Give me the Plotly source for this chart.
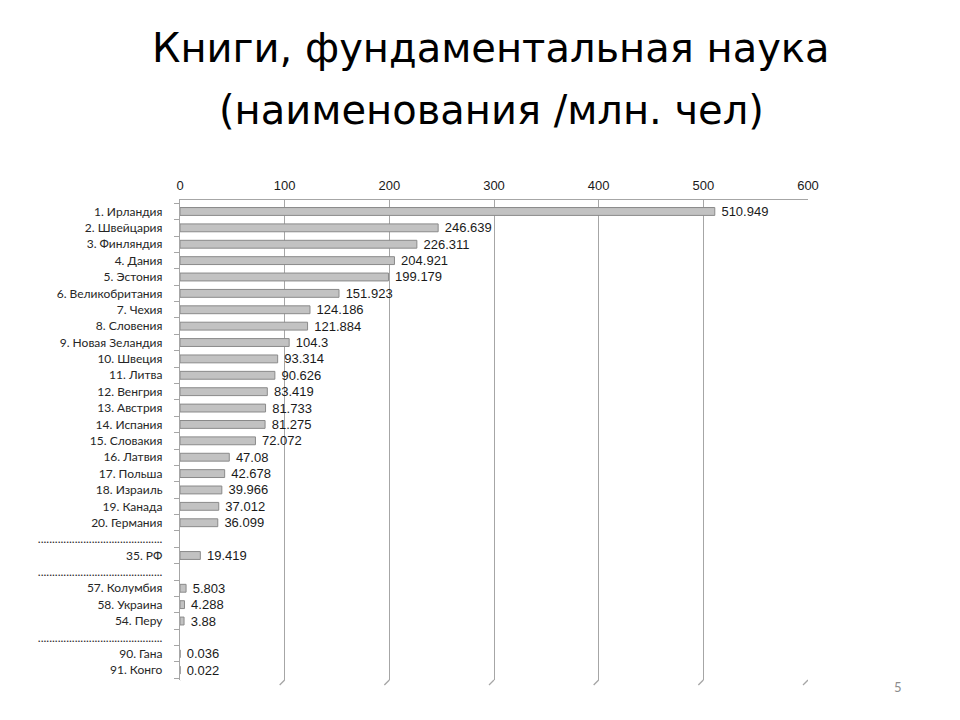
import plotly.graph_objects as go

# rows of the chart, top to bottom; "" marks a gap row with a dotted separator
labels = [
    "1. Ирландия", "2. Швейцария", "3. Финляндия", "4. Дания", "5. Эстония",
    "6. Великобритания", "7. Чехия", "8. Словения", "9. Новая Зеландия",
    "10. Швеция", "11. Литва", "12. Венгрия", "13. Австрия", "14. Испания",
    "15. Словакия", "16. Латвия", "17. Польша", "18. Израиль", "19. Канада",
    "20. Германия", "", "35. РФ", "", "57. Колумбия", "58. Украина", "54. Перу",
    "", "90. Гана", "91. Конго",
]
values = [
    510.949, 246.639, 226.311, 204.921, 199.179, 151.923, 124.186, 121.884,
    104.3, 93.314, 90.626, 83.419, 81.733, 81.275, 72.072, 47.08, 42.678,
    39.966, 37.012, 36.099, None, 19.419, None, 5.803, 4.288, 3.88, None,
    0.036, 0.022,
]
value_text = [
    "510.949", "246.639", "226.311", "204.921", "199.179", "151.923", "124.186",
    "121.884", "104.3", "93.314", "90.626", "83.419", "81.733", "81.275",
    "72.072", "47.08", "42.678", "39.966", "37.012", "36.099", "", "19.419", "",
    "5.803", "4.288", "3.88", "", "0.036", "0.022",
]
x_ticks = [0, 100, 200, 300, 400, 500, 600]

rows = list(range(len(labels)))
dots = "." * 44
tick_text = [lab if lab else dots for lab in labels]

# the page is shown with an 8px body margin, so layout is in figure pixels
W, H = 960, 720
L, R, T, B = 172, 160, 192, 48
plot_w = W - L - R
plot_h = H - T - B

fig = go.Figure()
fig.add_trace(go.Bar(
    x=values, y=rows, orientation="h",
    width=0.48,
    marker=dict(color="#c2c2c2", line=dict(color="#8a8a8a", width=1)),
    text=value_text, texttemplate="\u00a0%{text}",
    textposition="outside", constraintext="none",
    textfont=dict(family="Liberation Sans, Arial", size=13, color="#1a1a1a"),
    cliponaxis=False, hoverinfo="skip",
))

fig.update_layout(
    width=W, height=H,
    paper_bgcolor="white", plot_bgcolor="white",
    margin=dict(l=L, r=R, t=T, b=B, autoexpand=False),
    showlegend=False,
    xaxis=dict(
        side="top", range=[0, 600], tickvals=x_ticks,
        showgrid=True, gridcolor="#a6a6a6", gridwidth=1.3,
        showline=True, linecolor="#a6a6a6", linewidth=1.3,
        zeroline=False, ticks="", ticklabelstandoff=4,
        tickfont=dict(family="Liberation Sans, Arial", size=13, color="#1a1a1a"),
    ),
    yaxis=dict(
        range=[28.6, -0.7], tickvals=rows, ticktext=tick_text,
        showgrid=False, zeroline=False, ticks="",
        showline=True, linecolor="#a6a6a6", linewidth=1.3,
        minor=dict(tick0=-0.5, dtick=1, ticks="outside", ticklen=5,
                   tickcolor="#a6a6a6", tickwidth=1),
        tickfont=dict(family="Lato", size=12, color="#262626"),
        ticklabelstandoff=14,
    ),
)

# little 3d "floor" feet under each gridline
foot = 5 * 600 / plot_w
for t in x_ticks:
    fig.add_shape(type="line", xref="x", yref="paper",
                  x0=t, x1=t - foot, y0=0, y1=-5 / plot_h,
                  line=dict(color="#a6a6a6", width=1.3))


def fx(px):
    return (px - 8 - L) / plot_w


def fy(px):
    return (H - B - (px - 8)) / plot_h


title_font = dict(family="DejaVu Sans", size=40, color="black")
fig.add_annotation(text="Книги, фундаментальная наука", xref="paper", yref="paper",
                   x=fx(491), y=fy(48), xanchor="center", yanchor="middle",
                   font=title_font, showarrow=False)
fig.add_annotation(text="(наименования /млн. чел)", xref="paper", yref="paper",
                   x=fx(491), y=fy(110), xanchor="center", yanchor="middle",
                   font=title_font, showarrow=False)
fig.add_annotation(text="5", xref="paper", yref="paper",
                   x=fx(898), y=fy(687), xanchor="center", yanchor="middle",
                   showarrow=False,
                   font=dict(family="Lato", size=13, color="#8c8c8c"))

fig.write_html("out.html")
